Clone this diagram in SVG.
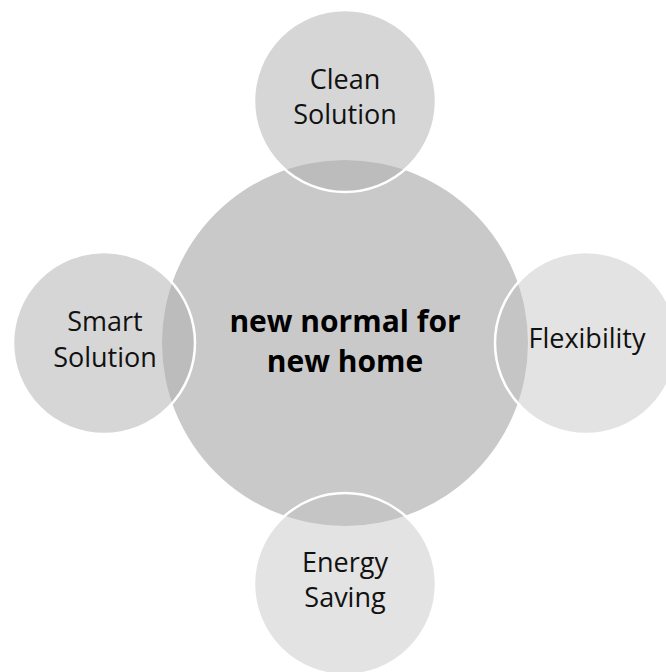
<svg xmlns="http://www.w3.org/2000/svg" width="666" height="672" viewBox="0 0 666 672">
<style>
.t{font-family:"Open Sans","Noto Sans","Liberation Sans",sans-serif;font-size:27px;fill:#111;text-anchor:middle}
.c{font-family:"Open Sans","Noto Sans","Liberation Sans",sans-serif;font-size:30px;font-weight:bold;fill:#000;text-anchor:middle}
.sa{fill:#b0b0b0;fill-opacity:0.52;stroke:#fff;stroke-width:2.5}
.sb{fill:#c1c1c1;fill-opacity:0.45;stroke:#fff;stroke-width:2.5}
</style>
<rect width="666" height="672" fill="#fff"/>
<g id="center">
<circle cx="345" cy="343" r="183" fill="#c9c9c9"/>
</g>
<g id="clean-solution">
<circle class="sa" cx="345" cy="101" r="91"/>
<text class="t" x="345" y="89">Clean</text>
<text class="t" x="345" y="124">Solution</text>
</g>
<g id="smart-solution">
<circle class="sa" cx="104" cy="343" r="91"/>
<text class="t" x="105" y="331">Smart</text>
<text class="t" x="105" y="367">Solution</text>
</g>
<g id="flexibility">
<circle class="sb" cx="586" cy="343" r="91"/>
<text class="t" x="587" y="348">Flexibility</text>
</g>
<g id="energy-saving">
<circle class="sb" cx="345" cy="584" r="91"/>
<text class="t" x="345" y="572">Energy</text>
<text class="t" x="345" y="607">Saving</text>
</g>
<g id="center-label">
<text class="c" x="345" y="332">new normal for</text>
<text class="c" x="345" y="372">new home</text>
</g>
</svg>
